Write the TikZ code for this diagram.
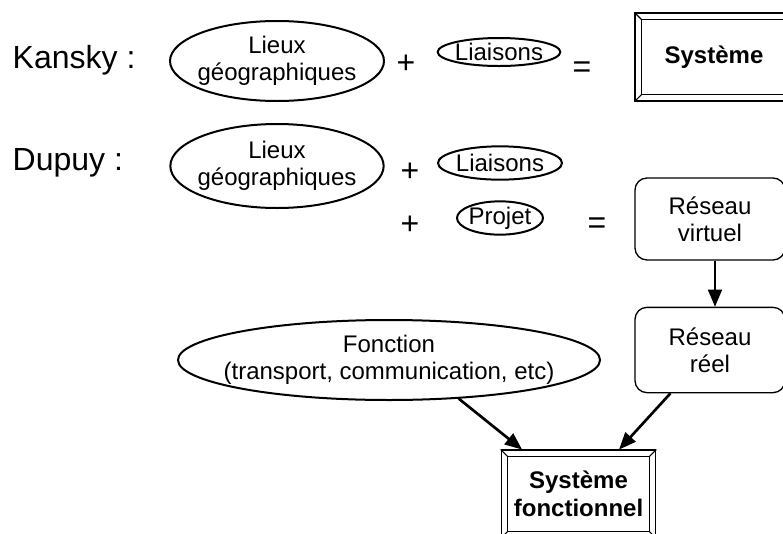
\documentclass[tikz,border=0pt]{standalone}
\usepackage{fontspec}
\setmainfont{Liberation Sans}
\usetikzlibrary{shapes.geometric, arrows}
\tikzstyle{lieu} = [ellipse, draw=black, line width=1.5pt,
                    inner xsep=-3pt, inner ysep=0pt, align=center,
                    font=\fontsize{18}{20.5}\selectfont]
\tikzstyle{bevel} = [rectangle, draw=black, line width=0.8pt,
                     inner sep=0pt, align=center,
                     font=\bfseries\fontsize{18}{21}\selectfont]
\tikzstyle{reseau} = [rectangle, rounded corners=9pt, draw=black,
                      line width=1pt, inner sep=0pt, align=center,
                      minimum width=112.5pt, font=\fontsize{18}{20.5}\selectfont]
\tikzstyle{auteur} = [anchor=west, font=\fontsize{24}{28}\selectfont]
\tikzstyle{signe} = [font=\fontsize{24}{28}\selectfont]
\tikzstyle{arrow} = [line width=2pt,->,>=triangle 45]
\newcommand{\biseau}[1]{%
  \draw[line width=0.8pt] ([shift={(7,7)}]#1.north west) rectangle ([shift={(-7,-7)}]#1.south east);
  \draw[line width=0.8pt] (#1.north west) -- ++(7,7);
  \draw[line width=0.8pt] (#1.north east) -- ++(-7,7);
  \draw[line width=0.8pt] (#1.south west) -- ++(7,-7);
  \draw[line width=0.8pt] (#1.south east) -- ++(-7,-7);}

\begin{document}
\begin{tikzpicture}[x=0.75pt, y=-0.75pt]
        \useasboundingbox (0,0) rectangle (783,533);

        %Kansky
        \node (kansky) [auteur] at (8, 60) {Kansky :};
        \node (lieuxK) [lieu, minimum width=160.5pt, minimum height=60pt] at (277, 61) {Lieux\\géographiques};
        \node (plusK) [signe] at (406, 64) {+};
        \node (liaisonsK) [lieu, inner xsep=-1.5pt, inner ysep=-1.5pt, minimum width=92pt, minimum height=21pt] at (499, 52) {Liaisons};
        \node (egalK) [signe] at (582, 70) {=};
        \node (systeme) [bevel, minimum width=118.5pt, minimum height=66pt] at (714, 57) {Système};
        \biseau{systeme}

        %Dupuy
        \node (dupuy) [auteur] at (8, 163) {Dupuy :};
        \node (lieuxD) [lieu, minimum width=160pt, minimum height=63pt] at (277, 166) {Lieux\\géographiques};
        \node (plusD1) [signe] at (410, 172) {+};
        \node (liaisonsD) [lieu, inner xsep=-1.5pt, inner ysep=-1.5pt, minimum width=93pt, minimum height=25pt] at (500, 163) {Liaisons};
        \node (plusD2) [signe] at (410, 225) {+};
        \node (projet) [lieu, inner xsep=-1pt, inner ysep=-1.5pt, minimum width=64.5pt, minimum height=25pt] at (500, 218) {Projet};
        \node (egalD) [signe] at (597, 226) {=};

        %Reseaux
        \node (virtuel) [reseau, minimum height=61.5pt] at (710, 219) {Réseau\\virtuel};
        \node (reel) [reseau, minimum height=64pt] at (710, 350) {Réseau\\réel};
        \draw [arrow] ([xshift=3.75pt]virtuel.south) -- ([xshift=3.75pt]reel.north);

        %Fonction
        \node (fonction) [lieu, inner xsep=-15pt, minimum width=316.5pt, minimum height=60pt] at (389, 360) {Fonction\\(transport, communication, etc)};

        %Systeme fonctionnel
        \node (sysfonc) [bevel, minimum width=116pt, minimum height=66pt] at (578.5, 494) {Système\\fonctionnel};
        \biseau{sysfonc}

        %Lines to systeme fonctionnel
        \draw [arrow] (fonction.-29) -- ([xshift=16pt]sysfonc.north west);
        \draw [arrow] (reel) -- (sysfonc);

\end{tikzpicture}
\end{document}
